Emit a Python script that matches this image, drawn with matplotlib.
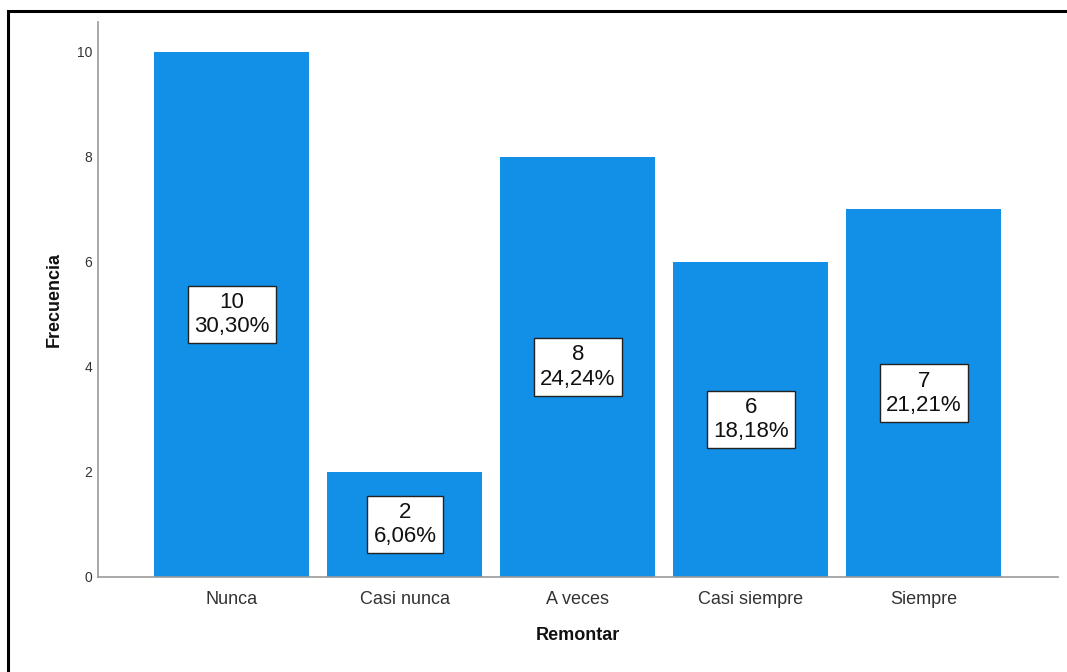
import matplotlib
matplotlib.use("Agg")
import matplotlib.pyplot as plt
from matplotlib.patches import Rectangle

categories = ["Nunca", "Casi nunca", "A veces", "Casi siempre", "Siempre"]
counts = [10, 2, 8, 6, 7]
percents = ["30,30%", "6,06%", "24,24%", "18,18%", "21,21%"]
yticks = [0, 2, 4, 6, 8, 10]

plt.rcParams['font.family'] = ['Liberation Sans', 'DejaVu Sans']

fig = plt.figure(figsize=(10.67, 6.72), dpi=100)
ax = fig.add_axes([98/1067, 1 - 577/672, (1058 - 98)/1067, (577 - 22)/672])

x = list(range(len(categories)))
ax.bar(x, counts, width=0.896, color="#128FE6", zorder=2)

for xi, c, p in zip(x, counts, percents):
    ax.text(xi, c / 2, f"{c}\n{p}", ha="center", va="center", fontsize=16,
            linespacing=1.2, color="#111111", zorder=3,
            bbox=dict(boxstyle="square,pad=0.28", fc="white", ec="#222222", lw=1.0))

ax.set_xlim(-0.7746, 4.775)
ax.set_ylim(0, 10.571)
ax.set_xticks(x)
ax.set_xticklabels(categories, fontsize=13, color="#333333")
ax.set_yticks(yticks)
ax.set_yticklabels([str(v) for v in yticks], fontsize=10, color="#333333")
ax.tick_params(axis="both", length=0)
ax.tick_params(axis="x", pad=10)
ax.tick_params(axis="y", pad=4)

for s in ["top", "right"]:
    ax.spines[s].set_visible(False)
for s in ["left", "bottom"]:
    ax.spines[s].set_color("#999999")
    ax.spines[s].set_linewidth(1.2)

ax.set_xlabel("Remontar", fontsize=13, fontweight="bold", color="#111111", labelpad=14)
ax.set_ylabel("Frecuencia", fontsize=13, fontweight="bold", color="#111111", labelpad=10)

# outer frame
fig.patches.append(Rectangle((8/1067, -0.1), 1.2, (672 - 11)/672 + 0.1,
                             transform=fig.transFigure, fill=False, ec="black", lw=2.2))

fig.savefig("out.png", dpi=100)
